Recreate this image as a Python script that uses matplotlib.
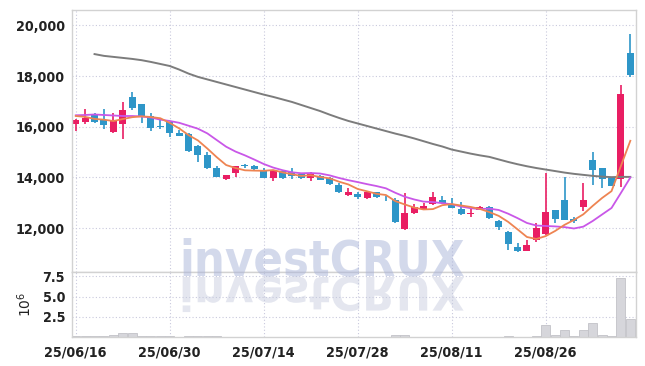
import numpy as np
import pandas as pd
import matplotlib
matplotlib.use('Agg')
import matplotlib.pyplot as plt
import matplotlib.font_manager as fm
from matplotlib.textpath import TextPath
from matplotlib.patches import PathPatch
from matplotlib.font_manager import FontProperties
from matplotlib.transforms import Affine2D, IdentityTransform

# --- trading days (KRX, 15 Aug holiday) ---
dates = pd.bdate_range('2025-06-16', '2025-09-08', freq='C', holidays=['2025-08-15'])

# --- OHLC (KRW) ---
opens = [16120, 16180, 16470, 16260, 15780, 16120, 17190, 16900, 16440, 15990,
         16180, 15770, 15710, 15240, 14890, 14360, 13940, 14190, 14460, 14450,
         14290, 13990, 14250, 14230, 14120, 13990, 14060, 13990, 13700, 13290,
         13360, 13200, 13410, 13180, 13110, 11950, 12580, 12750, 12940, 13110,
         12950, 12740, 12570, 12710, 12840, 12280, 11860, 11260, 11100, 11530,
         11750, 12710, 13110, 12360, 12820, 14690, 14360, 13990, 13930, 18930]
highs = [16300, 16690, 16530, 16690, 16530, 16970, 17360, 16900, 16530, 16360,
         16200, 15870, 15760, 15260, 14990, 14440, 14100, 14460, 14530, 14500,
         14360, 14270, 14270, 14360, 14150, 14230, 14080, 14000, 13790, 13590,
         13410, 13450, 13430, 13270, 13200, 13370, 12950, 12980, 13410, 13280,
         13170, 13040, 12750, 12860, 12870, 12300, 11870, 11400, 11530, 12190,
         14160, 12730, 14030, 12450, 13770, 14990, 14380, 14000, 17640, 19660]
lows = [15850, 16100, 16140, 15900, 15770, 15500, 16660, 16140, 15830, 15900,
        15610, 15640, 15020, 14620, 14330, 14000, 13900, 14000, 14360, 14310,
        13970, 13850, 13920, 13940, 13920, 13870, 13880, 13700, 13370, 13280,
        13140, 13160, 13200, 13080, 12210, 11940, 12570, 12710, 12920, 12940,
        12790, 12530, 12450, 12700, 12370, 11920, 11130, 11040, 11090, 11460,
        11740, 12210, 12300, 12190, 12690, 13700, 13570, 13650, 13630, 17950]
closes = [16270, 16360, 16200, 16070, 16230, 16660, 16730, 16370, 15940, 15980,
          15740, 15650, 15040, 14890, 14380, 14030, 14100, 14450, 14440, 14320,
          13990, 14250, 13990, 14070, 13990, 14130, 13900, 13730, 13410, 13440,
          13230, 13440, 13240, 13170, 12230, 12580, 12820, 12870, 13240, 13000,
          12800, 12540, 12590, 12840, 12380, 12050, 11360, 11110, 11330, 11990,
          12620, 12370, 12320, 12290, 13110, 14290, 13930, 13670, 17290, 18050]

# --- moving averages as drawn ---
ma5 = [16425, 16390, 16310, 16280, 16226, 16304, 16378, 16412, 16386, 16336,
       16152, 15936, 15670, 15460, 15140, 14798, 14488, 14370, 14280, 14268,
       14260, 14290, 14198, 14124, 14058, 14086, 14016, 13964, 13832, 13722,
       13542, 13450, 13352, 13304, 13062, 12932, 12808, 12734, 12748, 12902,
       12946, 12890, 12834, 12754, 12630, 12480, 12244, 11948, 11646, 11568,
       11682, 11884, 12126, 12318, 12542, 12876, 13188, 13458, 14458, 15446]
ma10 = [16453, 16465, 16485, 16465, 16445, 16425, 16425, 16405, 16366, 16281,
        16228, 16157, 16041, 15923, 15738, 15475, 15212, 15020, 14870, 14704,
        14529, 14389, 14284, 14202, 14163, 14173, 14153, 14081, 13978, 13890,
        13814, 13733, 13658, 13568, 13392, 13237, 13129, 13043, 13026, 12982,
        12939, 12849, 12784, 12751, 12766, 12713, 12567, 12391, 12200, 12099,
        12081, 12064, 12037, 11982, 12055, 12279, 12536, 12792, 13388, 13994]
ma60 = [np.nan, np.nan, 18870, 18800, 18760, 18720, 18680, 18630, 18560, 18480,
        18400, 18260, 18100, 17970, 17870, 17770, 17670, 17570, 17470, 17370,
        17270, 17180, 17080, 16980, 16860, 16740, 16620, 16480, 16350, 16230,
        16130, 16030, 15930, 15830, 15730, 15640, 15540, 15430, 15320, 15220,
        15100, 15020, 14940, 14870, 14810, 14710, 14610, 14520, 14440, 14370,
        14310, 14250, 14190, 14140, 14100, 14060, 14030, 14010, 14020, 14020]

# --- volume (x 10^6) ---
volume = [0.12, 0.10, 0.10, 0.15, 0.30, 0.55, 0.45, 0.12, 0.10, 0.08,
          0.08, 0.06, 0.10, 0.10, 0.15, 0.12, 0.06, 0.06, 0.05, 0.05,
          0.06, 0.05, 0.05, 0.05, 0.04, 0.05, 0.05, 0.05, 0.06, 0.05,
          0.04, 0.05, 0.04, 0.04, 0.20, 0.20, 0.06, 0.05, 0.06, 0.05,
          0.04, 0.05, 0.04, 0.04, 0.05, 0.06, 0.08, 0.06, 0.06, 0.10,
          1.50, 0.20, 0.90, 0.10, 0.90, 1.76, 0.28, 0.15, 7.30, 2.25]

UP = '#e91e63'
DOWN = '#2e96c8'
GRID = '#c9c9dd'
SPINE = '#d2d2d2'


# narrow bold font for labels, if one is installed
def pick_font():
    files = [f.fname for f in fm.fontManager.ttflist]
    for key in ['liberationsansnarrow-bold.', 'dejavusanscondensed-bold.']:
        for fn in files:
            if key in fn.lower().replace(' ', ''):
                return FontProperties(fname=fn)
    for fn in files:
        low = fn.lower()
        if ('narrow' in low or 'condensed' in low) and 'bold' in low and 'italic' not in low and 'oblique' not in low:
            return FontProperties(fname=fn)
    return FontProperties(family='Liberation Sans', weight='bold')


label_fp = pick_font()

df = pd.DataFrame({'open': opens, 'high': highs, 'low': lows, 'close': closes,
                   'ma5': ma5, 'ma10': ma10, 'ma60': ma60, 'vol': volume}, index=dates)
x = np.arange(len(df))
up = df['close'] >= df['open']
colors = np.where(up, UP, DOWN)

fig = plt.figure(figsize=(6.45, 3.66), dpi=100)
ax = fig.add_axes([0.1116, 0.2568, 0.8744, 0.7159])
axv = fig.add_axes([0.1116, 0.0792, 0.8744, 0.1776], sharex=ax)


def fit_size(text, fp, target_w):
    t = fig.text(0, 0, text, fontproperties=fp, fontsize=20)
    fig.canvas.draw()
    w = t.get_window_extent().width
    t.remove()
    return 20.0 * target_w / w


lab_size = min(max(fit_size('20,000', label_fp, 39), 10.3), 11.7)

# candles
body_bottom = np.minimum(df['open'], df['close'])
body_h = np.maximum((df['close'] - df['open']).abs(), 35)
ax.vlines(x, df['low'], df['high'], colors=colors, lw=1.2, zorder=2)
ax.bar(x, body_h, bottom=body_bottom, width=0.75, color=colors, zorder=2)

# moving averages
ax.plot(x, df['ma60'], color='#7c7c7c', lw=1.4, zorder=3)
ax.plot(x, df['ma10'], color='#c957e8', lw=1.3, zorder=3)
ax.plot(x, df['ma5'], color='#ee8452', lw=1.3, zorder=3)

# volume
axv.bar(x, df['vol'], width=0.95, color='#d6d6db', edgecolor='#c2c2c8', lw=0.6, zorder=2)

# axes styling
ax.set_xlim(-0.4, 59.6)
ax.set_ylim(10263, 20612)
ax.set_yticks([12000, 14000, 16000, 18000, 20000])
ax.set_yticklabels([f'{v:,}' for v in [12000, 14000, 16000, 18000, 20000]])
axv.set_ylim(0, 8.04)
axv.set_yticks([2.5, 5.0, 7.5])
axv.set_yticklabels(['2.5', '5.0', '7.5'])

tick_pos = [0, 10, 20, 30, 40, 50]
axv.set_xticks(tick_pos)
axv.set_xticklabels([dates[i].strftime('%y/%m/%d') for i in tick_pos])
ax.tick_params(axis='x', labelbottom=False)

for a in (ax, axv):
    a.grid(True, color=GRID, lw=0.8, linestyle=(0, (1, 2)), zorder=0)
    a.set_axisbelow(True)
    a.tick_params(length=0, colors='#222222')
    for s in a.spines.values():
        s.set_color(SPINE)
        s.set_linewidth(1.0)
    for lab in a.get_xticklabels() + a.get_yticklabels():
        lab.set_fontproperties(label_fp)
        lab.set_fontsize(lab_size)
ax.tick_params(axis='y', pad=5)
axv.tick_params(axis='y', pad=5)
axv.tick_params(axis='x', pad=6)

axv.set_ylabel(r'$10^{6}$', fontsize=10, color='#222222')
axv.yaxis.set_label_coords(-0.068, 0.5)

# watermark (real text) with a mirrored reflection below it
base = 366 - 275
wm_fp = label_fp.copy()
wm_size = fit_size('investCRUX', wm_fp, 286)
fig.text(179 / 645, base / 366, 'investCRUX', fontproperties=wm_fp, fontsize=wm_size,
         color='#a9b4d9', alpha=0.5, ha='left', va='baseline')
tp = TextPath((0, 0), 'investCRUX', size=wm_size * 100 / 72, prop=wm_fp)
refl_tr = Affine2D().scale(1, -0.95).translate(179, base - 2)
fig.patches.append(PathPatch(refl_tr.transform_path(tp), transform=IdentityTransform(),
                             facecolor='#c4c9dd', edgecolor='none', alpha=0.45, figure=fig))

fig.savefig('out.png', dpi=100)
